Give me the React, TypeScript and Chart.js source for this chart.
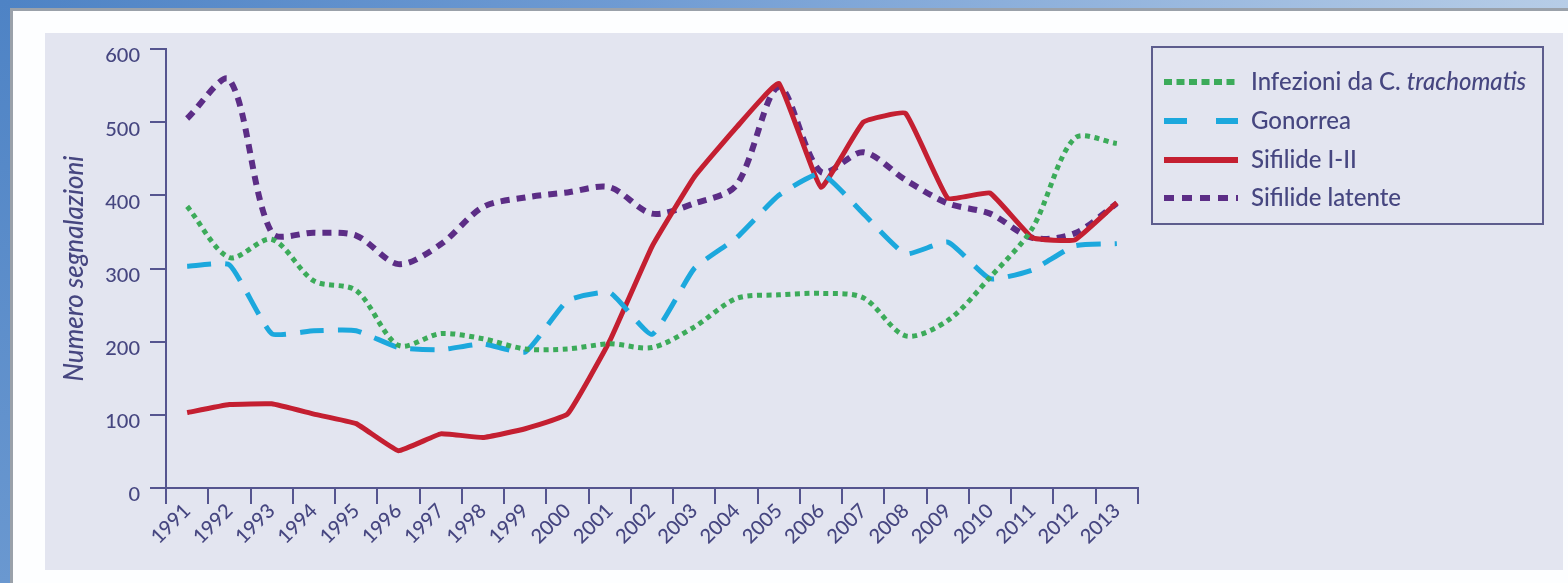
import { useEffect, useRef } from "react";
import { Chart, registerables } from "chart.js";

Chart.register(...registerables);

// ---- data ----
const years = [
  "1991", "1992", "1993", "1994", "1995", "1996", "1997", "1998", "1999", "2000",
  "2001", "2002", "2003", "2004", "2005", "2006", "2007", "2008", "2009", "2010",
  "2011", "2012", "2013",
];
const seriesNames = ["Infezioni da C. trachomatis", "Gonorrea", "Sifilide I-II", "Sifilide latente"];
const italicWords = ["trachomatis"];
const chlamydia = [385, 315, 340, 283, 270, 195, 211, 204, 190, 190, 197, 192, 220, 259, 264, 266, 260, 208, 229, 288, 355, 478, 471];
const gonorrhea = [303, 305, 211, 215, 215, 192, 189, 197, 186, 256, 267, 210, 300, 342, 400, 430, 375, 320, 336, 286, 298, 331, 334];
const syphilisEarly = [103, 114, 115, 101, 88, 51, 74, 69, 81, 101, 201, 330, 425, 493, 553, 411, 500, 512, 396, 403, 342, 339, 390];
const syphilisLatent = [505, 558, 349, 349, 345, 306, 333, 384, 397, 404, 411, 375, 389, 414, 548, 432, 459, 421, 389, 375, 342, 348, 389];
const yAxisTitle = "Numero segnalazioni";
const yMin = 0;
const yMax = 600;
const yStep = 100;

// ---- styles ----
const AXIS = "#55558f";
const TEXT = "#464680";
const FONT = "Lato, 'Open Sans', sans-serif";
const WEIGHT = "500";
const COLORS = ["#3cab5a", "#1ca8dd", "#c41f31", "#5c2d86"];
const LEGEND_DASH = [[8, 4.5], [23, 29], [], [10, 8]];
const LEGEND_WIDTH = [6, 6, 6, 6];

const boxLegend = {
  id: "boxLegend",
  afterDraw(chart: any) {
    const { ctx, chartArea } = chart;
    const boxX = chartArea.right + 14;
    const boxY = 47;
    const boxW = 391;
    const boxH = 177;
    ctx.save();
    ctx.strokeStyle = "#5d5d8d";
    ctx.lineWidth = 2;
    ctx.setLineDash([]);
    ctx.strokeRect(boxX, boxY, boxW, boxH);
    const rows = [82, 121, 160, 198];
    chart.data.datasets.forEach((ds: any, i: number) => {
      const y = rows[i];
      ctx.beginPath();
      ctx.setLineDash(LEGEND_DASH[i]);
      ctx.lineWidth = LEGEND_WIDTH[i];
      ctx.lineCap = "butt";
      ctx.strokeStyle = ds.borderColor;
      ctx.moveTo(boxX + 12, y);
      ctx.lineTo(boxX + 86, y);
      ctx.stroke();
      ctx.setLineDash([]);
      ctx.fillStyle = TEXT;
      ctx.textBaseline = "middle";
      ctx.textAlign = "left";
      let x = boxX + 99;
      const parts = String(ds.label).split(/(\s+)/);
      parts.forEach((p: string) => {
        const it = italicWords.includes(p);
        ctx.font = `${it ? "italic " : ""}${WEIGHT} 24px ${FONT}`;
        ctx.fillText(p, x, y);
        x += ctx.measureText(p).width;
      });
    });
    ctx.restore();
  },
};

export default function App() {
  const ref = useRef<HTMLCanvasElement | null>(null);

  useEffect(() => {
    if (!ref.current) return;
    const series = [chlamydia, gonorrhea, syphilisEarly, syphilisLatent];
    const dashes = [[5, 4.5], [24, 14], [], [9, 7]];
    const widths = [5, 5, 5, 6];
    const tensions = [0.3, 0.15, 0.1, 0.3];
    const chart = new Chart(ref.current, {
      type: "line",
      data: {
        labels: years,
        datasets: series.map((d, i) => ({
          label: seriesNames[i],
          data: d,
          borderColor: COLORS[i],
          backgroundColor: COLORS[i],
          borderWidth: widths[i],
          borderDash: dashes[i],
          pointRadius: 0,
          tension: tensions[i],
          fill: false,
        })),
      },
      options: {
        animation: false,
        responsive: false,
        layout: { padding: { left: 45, top: 49, right: 430, bottom: 0 } },
        plugins: { legend: { display: false }, tooltip: { enabled: false } },
        scales: {
          x: {
            offset: true,
            border: { color: AXIS, width: 2 },
            grid: { drawOnChartArea: false, drawTicks: true, tickLength: 16, color: AXIS, lineWidth: 2, offset: true },
            ticks: {
              autoSkip: false,
              maxRotation: 45,
              minRotation: 45,
              padding: -5,
              color: TEXT,
              font: { family: FONT, size: 20, weight: WEIGHT },
            },
            afterFit: (s: any) => {
              s.height = 95;
            },
          },
          y: {
            min: yMin,
            max: yMax,
            border: { color: AXIS, width: 2 },
            grid: { drawOnChartArea: false, drawTicks: true, tickLength: 16, color: AXIS, lineWidth: 2 },
            ticks: {
              stepSize: yStep,
              padding: 10,
              labelOffset: 7,
              color: TEXT,
              font: { family: FONT, size: 20, weight: WEIGHT },
            },
            title: {
              display: true,
              text: yAxisTitle,
              color: TEXT,
              font: { family: FONT, size: 26, style: "italic", weight: WEIGHT },
              padding: { top: 14, bottom: 0 },
            },
            afterFit: (s: any) => {
              s.width = 121;
            },
          },
        },
      },
      plugins: [boxLegend],
    });
    return () => chart.destroy();
  }, []);

  return (
    <div style={{ position: "fixed", left: 0, top: 0, width: 1568, height: 583, background: "#fdfeff", overflow: "hidden" }}>
      <div style={{ position: "absolute", left: 0, top: 0, width: 1568, height: 8, background: "linear-gradient(90deg, #4e83c5 0%, #6f9bd3 40%, #b7cde7 100%)" }} />
      <div style={{ position: "absolute", left: 0, top: 0, width: 10, height: 583, background: "linear-gradient(180deg, #4e83c5 0%, #6a98d0 100%)" }} />
      <div style={{ position: "absolute", left: 10, top: 8, width: 1558, height: 3, background: "#9aa1aa" }} />
      <div style={{ position: "absolute", left: 10, top: 8, width: 3, height: 575, background: "#9aa1aa" }} />
      <div style={{ position: "absolute", left: 45, top: 33, width: 1518, height: 537, background: "#e3e5f0" }} />
      <canvas ref={ref} width={1568} height={583} style={{ position: "absolute", left: 0, top: 0, width: 1568, height: 583 }} />
    </div>
  );
}
